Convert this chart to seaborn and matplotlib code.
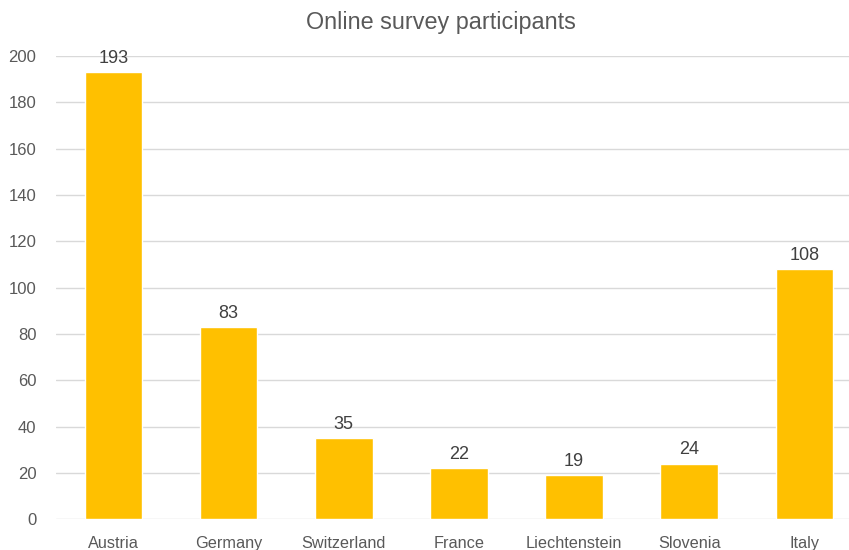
import matplotlib.pyplot as plt
import pandas as pd
import seaborn as sns

countries = ["Austria", "Germany", "Switzerland", "France", "Liechtenstein", "Slovenia", "Italy"]
participants = [193, 83, 35, 22, 19, 24, 108]
yticks = [0, 20, 40, 60, 80, 100, 120, 140, 160, 180, 200]

df = pd.DataFrame({"country": countries, "participants": participants})

sns.set_style("white")
plt.rcParams['font.family'] = ['Liberation Sans', 'DejaVu Sans']

fig = plt.figure(figsize=(8.49, 5.5), dpi=100)
ax = fig.add_axes([0.0658, 0.0558, 0.9495, 0.8422])

sns.barplot(data=df, x="country", y="participants", color="#FFC000",
            saturation=1, width=0.5, ax=ax, zorder=3)

ax.set_ylim(0, 200)
ax.set_xlim(-0.5, 6.5)
ax.set_yticks(yticks)
ax.yaxis.grid(True, color="#D9D9D9", linewidth=1, zorder=0)
ax.set_axisbelow(True)
for s in ax.spines.values():
    s.set_visible(False)
ax.tick_params(axis="both", length=0, labelsize=12, colors="#595959")
ax.tick_params(axis="x", pad=12, labelsize=11.7)
ax.tick_params(axis="y", pad=14)
ax.set_xlabel("")
ax.set_ylabel("")

ax.bar_label(ax.containers[0], padding=4, fontsize=13, color="#404040")

fig.text(441 / 849, 1 - 22 / 550, "Online survey participants", ha="center", va="center",
         fontsize=16.8, color="#595959")

fig.savefig("out.png", dpi=100)
